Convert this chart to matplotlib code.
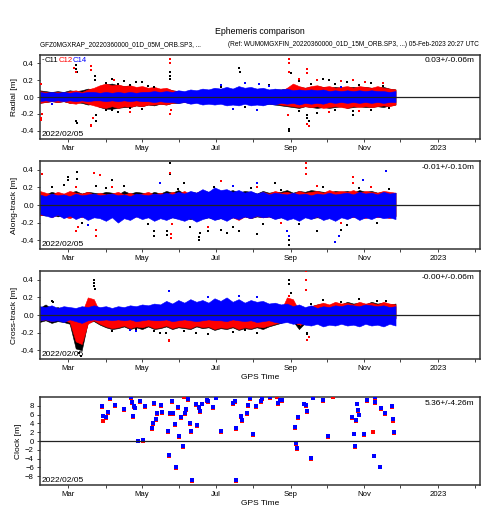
import numpy as np
import matplotlib
matplotlib.use("Agg")
import matplotlib.pyplot as plt
import matplotlib.dates as mdates

plt.rcParams['font.family'] = ['Liberation Sans', 'DejaVu Sans']

# ---------------- data ----------------
start = np.datetime64('2022-02-05')
sample_days = list(range(0, 300, 5))          # days since 2022-02-05
sats = ['C11', 'C12', 'C14']
colors = {'C11': 'black', 'C12': '#ff0000', 'C14': '#0000ff'}

# Radial [m]
rad_c14_hi = [.06,.05,.06,.05,.06,.05,.06,.05,.06,.06, .05,.06,.05,.06,.05,.06,.05,.06,.06,.07,
              .06,.07,.06,.08,.07,.09,.08,.10,.09,.11, .10,.12,.10,.13,.11,.12,.10,.11,.09,.10,
              .09,.10,.08,.09,.08,.09,.08,.09,.07,.08, .07,.08,.07,.08,.07,.08,.07,.07,.06,.07]
rad_c14_lo = [-.05,-.04,-.05,-.04,-.05,-.04,-.05,-.04,-.05,-.04, -.04,-.05,-.04,-.05,-.04,-.05,-.04,-.05,-.05,-.06,
              -.05,-.06,-.06,-.07,-.06,-.08,-.07,-.09,-.08,-.09, -.08,-.10,-.09,-.10,-.08,-.10,-.09,-.10,-.08,-.09,
              -.07,-.08,-.07,-.09,-.07,-.08,-.07,-.08,-.06,-.07, -.06,-.07,-.06,-.07,-.06,-.07,-.06,-.07,-.06,-.06]
rad_c12_hi = [.07,.06,.05,.06,.05,.07,.08,.06,.09,.11, .14,.16,.14,.15,.13,.14,.12,.13,.11,.12,
              .10,.11,.08,.07,.06,.07,.06,.06,.07,.06, .06,.07,.06,.07,.06,.06,.05,.06,.07,.06,
              .07,.11,.16,.13,.11,.13,.14,.12,.13,.11, .12,.13,.11,.13,.12,.11,.13,.11,.10,.09]
rad_c12_lo = [-.07,-.06,-.05,-.06,-.05,-.07,-.08,-.06,-.08,-.10, -.12,-.13,-.11,-.13,-.11,-.12,-.10,-.11,-.09,-.09,
              -.08,-.09,-.07,-.06,-.06,-.07,-.06,-.06,-.07,-.06, -.06,-.07,-.06,-.07,-.06,-.06,-.05,-.06,-.07,-.08,
              -.09,-.10,-.11,-.12,-.11,-.12,-.11,-.13,-.12,-.11, -.12,-.13,-.11,-.12,-.11,-.12,-.11,-.10,-.11,-.09]
rad_c11_hi = [.08,.07,.06,.07,.06,.08,.07,.08,.10,.09, .13,.15,.16,.14,.13,.13,.11,.12,.10,.11,
              .09,.10,.08,.07,.06,.07,.06,.07,.07,.06, .07,.06,.07,.08,.06,.07,.06,.07,.08,.09,
              .09,.10,.13,.12,.11,.12,.13,.12,.11,.12, .11,.12,.12,.11,.12,.11,.11,.12,.10,.09]
rad_c11_lo = [-.07,-.06,-.05,-.06,-.05,-.07,-.06,-.07,-.09,-.08, -.12,-.14,-.14,-.13,-.12,-.12,-.10,-.11,-.09,-.10,
              -.08,-.09,-.07,-.07,-.06,-.07,-.06,-.07,-.07,-.06, -.07,-.06,-.07,-.08,-.07,-.08,-.07,-.09,-.08,-.09,
              -.10,-.11,-.12,-.13,-.11,-.12,-.13,-.12,-.13,-.12, -.11,-.13,-.12,-.11,-.12,-.12,-.11,-.12,-.10,-.09]
rad_c11_out_d = [30,30,31,30,31,46,46,47,47,108,108,108,165,166,207,207,208,222,222,223,80,60,240,260,
                 55,60,65,70,75,85,90,55,65,75,85,95,215,225,235,245,255,265,275,285,215,230,245,260,275,290,150,170,190]
rad_c11_out_v = [.38,.33,.30,-.28,-.31,.25,.20,-.28,-.22,.30,.22,.25,.35,.30,-.40,-.38,.28,-.25,-.22,-.28,.18,-.16,.20,-.17,
                 .17,.21,.15,.19,.14,.18,.13,-.15,-.18,-.13,-.14,.12,.19,.16,.21,.15,.18,.14,.17,.13,-.17,-.19,-.15,-.21,-.16,-.13,.12,-.12,.14]
rad_c12_out_d = [1,1,2,1,29,30,43,43,43,43,44,108,108,108,109,207,207,207,206,222,222,222,223,260,62,75,
                 215,230,250,270,285,240,265]
rad_c12_out_v = [-.25,-.27,-.20,.15,.35,.30,.37,.32,-.33,-.35,-.25,.45,.40,-.20,-.15,.45,.40,.30,-.22,.33,.28,-.32,-.35,.20,.20,-.18,
                 .22,.20,.19,.18,.17,-.18,-.17]
rad_c14_out_d = [170,182,190,160,180,250,150,10]
rad_c14_out_v = [.17,.15,.13,-.14,-.15,.12,.14,-.08]

# Along-track [m]
alo_c14_hi = [.12,.10,.13,.11,.12,.10,.13,.11,.12,.13, .11,.12,.13,.11,.12,.10,.13,.12,.11,.13,
              .12,.14,.12,.15,.13,.16,.14,.18,.15,.20, .17,.18,.15,.17,.14,.16,.13,.15,.12,.14,
              .13,.12,.14,.12,.13,.11,.13,.12,.14,.12, .13,.14,.12,.15,.13,.14,.12,.15,.13,.14]
alo_c14_lo = [-.10,-.12,-.14,-.11,-.15,-.12,-.16,-.13,-.17,-.14, -.15,-.18,-.14,-.20,-.15,-.17,-.13,-.16,-.14,-.18,
              -.15,-.17,-.14,-.16,-.18,-.15,-.19,-.16,-.14,-.17, -.15,-.18,-.14,-.16,-.13,-.15,-.12,-.14,-.13,-.16,
              -.14,-.17,-.15,-.18,-.14,-.16,-.13,-.17,-.15,-.18, -.14,-.16,-.13,-.17,-.14,-.16,-.13,-.15,-.14,-.16]
alo_c12_hi = [.16,.14,.12,.15,.13,.16,.14,.13,.15,.12, .14,.12,.13,.15,.12,.14,.11,.13,.15,.12,
              .14,.12,.15,.13,.16,.12,.14,.17,.13,.15, .14,.16,.12,.15,.13,.14,.12,.15,.13,.16,
              .14,.15,.13,.16,.14,.15,.16,.14,.17,.15, .16,.15,.17,.14,.16,.15,.14,.16,.15,.14]
alo_c12_lo = [-.12,-.10,-.14,-.11,-.13,-.15,-.12,-.14,-.11,-.13, -.12,-.14,-.11,-.13,-.12,-.15,-.13,-.12,-.14,-.11,
              -.13,-.15,-.12,-.14,-.16,-.13,-.17,-.14,-.12,-.15, -.13,-.16,-.14,-.17,-.13,-.15,-.12,-.14,-.13,-.15,
              -.12,-.14,-.11,-.13,-.12,-.15,-.13,-.16,-.14,-.15, -.13,-.12,-.14,-.13,-.15,-.12,-.14,-.13,-.15,-.12]
alo_c11_hi = [.14,.12,.15,.13,.11,.14,.16,.13,.15,.14, .13,.15,.14,.12,.16,.13,.15,.14,.12,.15,
              .13,.16,.14,.17,.13,.15,.14,.16,.15,.17, .16,.15,.17,.14,.16,.15,.13,.16,.14,.15,
              .15,.17,.14,.16,.15,.17,.16,.15,.14,.16, .15,.16,.14,.17,.15,.16,.14,.15,.13,.14]
alo_c11_lo = [-.11,-.12,-.10,-.13,-.11,-.13,-.12,-.11,-.13,-.12, -.12,-.11,-.13,-.12,-.14,-.12,-.13,-.12,-.13,-.14,
              -.13,-.15,-.14,-.15,-.14,-.16,-.14,-.15,-.14,-.16, -.15,-.16,-.14,-.15,-.13,-.15,-.13,-.14,-.13,-.15,
              -.14,-.15,-.13,-.15,-.13,-.15,-.14,-.15,-.13,-.14, -.13,-.15,-.13,-.14,-.13,-.14,-.13,-.13,-.12,-.13]
alo_c11_out_d = [31,31,24,24,47,60,108,108,95,95,106,106,132,132,133,140,155,165,180,207,207,230,250,195,120,
                 10,20,35,55,70,90,115,125,145,150,160,175,185,200,215,235,255,265,280,290]
alo_c11_out_v = [.38,.30,.32,.28,.22,.28,.48,.35,-.35,-.30,-.34,-.30,-.40,-.36,-.32,-.30,-.32,-.30,-.33,-.45,-.40,-.30,-.28,.25,.25,
                 .20,.23,-.20,.19,.22,-.22,.18,-.25,.21,-.28,-.25,.19,-.22,.17,-.22,.21,-.23,.19,-.20,.18]
alo_c12_out_d = [2,45,50,47,47,108,109,109,150,221,221,221,260,260,200,30,32,
                 30,60,110,140,180,230,250,275]
alo_c12_out_v = [.35,.36,.34,-.35,-.28,.36,-.38,-.33,.27,.48,.42,.35,.32,.25,-.20,-.30,-.25,
                 .20,.20,-.22,-.25,.20,.22,-.20,.20]
alo_c14_out_d = [100,205,207,245,248,287,268,40,180,160]
alo_c14_out_v = [.25,-.30,-.35,-.42,-.35,.39,.28,-.23,.25,.22]

# Cross-track [m]
crs_c14_hi = [.10,.09,.11,.08,.10,.09,.08,.10,.09,.11, .09,.10,.08,.10,.09,.11,.10,.12,.11,.13,
              .12,.16,.13,.17,.14,.18,.15,.17,.14,.19, .16,.20,.15,.18,.14,.17,.15,.16,.13,.14,
              .12,.13,.10,.12,.09,.11,.08,.10,.09,.11, .10,.12,.11,.10,.12,.11,.10,.11,.09,.10]
crs_c14_lo = [-.06,-.05,-.07,-.06,-.08,-.05,-.07,-.09,-.06,-.05, -.06,-.05,-.06,-.05,-.06,-.05,-.07,-.06,-.05,-.06,
              -.06,-.05,-.07,-.06,-.05,-.06,-.07,-.06,-.05,-.06, -.06,-.07,-.05,-.06,-.07,-.06,-.08,-.07,-.06,-.08,
              -.09,-.08,-.10,-.09,-.11,-.12,-.10,-.13,-.11,-.12, -.10,-.12,-.11,-.13,-.10,-.12,-.11,-.13,-.10,-.12]
crs_c12_hi = [.06,.05,.07,.05,.06,.04,.00,.02,.20,.18, .03,.02,.03,.02,.03,.02,.03,.02,.03,.02,
              .03,.02,.03,.02,.03,.02,.03,.02,.03,.02, .02,.03,.02,.03,.02,.03,.02,.03,.04,.05,
              .05,.20,.18,.05,.06,.10,.12,.14,.12,.15, .13,.14,.12,.15,.13,.14,.12,.15,.13,.12]
crs_c12_lo = [-.06,-.05,-.07,-.05,-.06,-.08,-.30,-.33,-.10,-.06, -.10,-.13,-.15,-.14,-.12,-.15,-.13,-.14,-.12,-.15,
              -.14,-.12,-.15,-.13,-.14,-.15,-.12,-.14,-.13,-.16, -.14,-.15,-.13,-.16,-.14,-.15,-.13,-.14,-.12,-.10,
              -.08,-.05,-.06,-.12,-.08,-.05,-.03,-.02,-.03,-.02, -.02,-.03,-.02,-.03,-.02,-.03,-.02,-.03,-.02,-.03]
crs_c11_hi = [.08,.12,.07,.09,.06,.05,-.10,-.15,.05,.10, .02,.01,.02,.00,.01,.02,.00,.01,.02,.00,
              .01,.00,.02,.01,.00,.01,.02,.00,.01,.02, .01,.02,.00,.01,.02,.01,.02,.03,.04,.05,
              .06,.12,.08,.06,.08,.10,.12,.13,.11,.14, .12,.15,.13,.14,.12,.15,.13,.14,.12,.13]
crs_c11_lo = [-.08,-.06,-.09,-.07,-.08,-.10,-.38,-.40,-.08,-.07, -.11,-.14,-.16,-.15,-.13,-.16,-.14,-.16,-.13,-.16,
              -.15,-.13,-.16,-.14,-.15,-.16,-.13,-.15,-.14,-.17, -.15,-.16,-.14,-.17,-.15,-.16,-.14,-.16,-.13,-.11,
              -.09,-.06,-.07,-.16,-.09,-.06,-.04,-.03,-.04,-.03, -.03,-.04,-.03,-.04,-.03,-.04,-.03,-.04,-.03,-.04]
crs_c11_out_d = [45,45,45,46,10,11,34,33,207,207,208,222,222,105,95,225,287,
                 100,120,140,160,180,235,250,265,280,215,60,80,130,170]
crs_c11_out_v = [.40,.36,.33,.30,.16,.15,-.47,-.43,.40,.35,.25,-.20,-.22,-.20,-.18,.12,.16,
                 -.21,-.18,-.22,-.19,-.20,.17,.15,.18,.16,-.12,-.18,-.16,-.20,-.17]
crs_c12_out_d = [107,107,207,221,221,221,222,223]
crs_c12_out_v = [-.28,-.30,.22,.50,.40,.28,-.28,-.25]
crs_c14_out_d = [107,75,80,180,165,140]
crs_c14_out_v = [.27,-.17,-.18,.20,.22,.20]

# Clock [m]
clock_days = [51.5,52.5,55.5,56.4,58.4,62.5,70.2,75.5,76.5,77.7,78.5,79.5,81.3,83.2,85.4,87.6,92.9,93.7,94.8,96.4,
              97.5,100.3,101.5,106.6,107.4,108.2,109.9,110.7,112.1,113.0,114.8,115.7,117.1,119.0,120.4,121.8,123.2,124.6,125.4,126.5,
              129.6,130.7,131.8,132.9,134.5,138.4,139.7,143.4,146.0,150.5,160.5,161.9,162.9,163.2,166.8,168.2,172.0,172.8,174.3,177.3,
              179.2,183.9,184.5,190.8,197.7,199.1,201.3,211.5,212.4,213.5,213.9,219.2,220.6,222.0,225.3,226.7,235.0,239.0,259.0,260.4,
              261.2,262.0,263.1,263.9,264.8,269.2,271.1,277.1,277.7,278.2,282.1,283.2,286.3,292.0,292.8,294.0]
clock_c14 = [8.0,5.7,5.5,6.5,9.7,8.2,7.2,9.9,8.8,5.7,8.0,7.6,0.1,9.1,0.2,8.0,3.0,4.0,8.7,5.0,
             6.3,8.1,6.6,2.3,-3.2,6.4,9.0,6.4,3.8,-6.0,7.8,1.1,5.4,-1.1,6.4,7.2,9.5,4.0,2.3,-8.8,
             8.4,3.6,7.8,6.8,8.5,9.4,9.1,7.8,9.7,2.3,8.7,9.1,-8.8,3.0,5.7,4.8,6.4,8.2,9.7,1.6,
             7.9,9.1,9.7,9.9,8.7,9.4,9.3,3.1,-0.4,-1.7,5.4,8.5,8.2,6.9,-3.8,9.7,9.4,1.1,5.5,1.7,
             -1.1,4.8,8.5,7.0,6.0,1.6,9.3,-3.3,9.9,8.9,-5.8,7.4,6.3,7.9,4.9,2.1]
clock_c12 = [7.8,4.6,5.3,6.3,9.5,8.0,7.0,9.7,8.6,5.4,7.8,7.4,-0.1,8.9,0.0,7.8,2.8,3.8,8.5,4.8,
             6.1,7.9,6.4,2.1,-3.4,6.2,8.8,6.2,3.6,-6.2,7.6,0.9,5.2,-1.3,6.2,7.0,9.3,3.8,2.1,-9.0,
             8.2,3.4,7.6,6.6,8.3,9.2,8.9,7.6,9.9,2.1,8.5,8.9,-9.0,2.8,5.5,4.6,6.2,8.0,9.5,1.3,
             7.7,8.9,9.5,9.7,8.5,9.2,9.1,2.9,-0.6,-1.9,5.2,8.3,8.0,6.7,-4.0,9.9,9.2,0.8,5.3,1.5,
             -1.3,4.6,8.3,6.8,5.8,1.4,9.1,-3.5,9.7,8.7,-6.0,7.2,6.1,7.7,4.6,1.9]
clock_c12_extra_d = [243.2, 276.3, 120.0, 197.0]
clock_c12_extra_v = [9.9, 2.1, 9.9, 9.9]

panel_labels = ['Radial [m]', 'Along-track [m]', 'Cross-track [m]', 'Clock [m]']
panel_stats = ['0.03+/-0.06m', '-0.01+/-0.10m', '-0.00+/-0.06m', '5.36+/-4.26m']
title = 'Ephemeris comparison'
subtitle_left = 'GFZ0MGXRAP_20220360000_01D_05M_ORB.SP3, ...'
subtitle_right = '(Ref: WUM0MGXFIN_20220360000_01D_15M_ORB.SP3, ...) 05-Feb-2023 20:27 UTC'
date_label = '2022/02/05'

# ---------------- helpers ----------------
def to_dates(days):
    return (start + (np.asarray(days, dtype=float) * 86400).astype('timedelta64[s]')).astype('datetime64[s]').astype(object)

W, H = 490, 520
fig = plt.figure(figsize=(W / 100, H / 100), dpi=100)

def fbox(x0, y0, x1, y1):
    return [x0 / W, 1 - y1 / H, (x1 - x0) / W, (y1 - y0) / H]

boxes = [(39.5, 55, 480, 139), (39.5, 161, 480, 249), (39.5, 271, 480, 359), (39.5, 397, 480, 485)]
xmin = to_dates([0])[0]
xmax = to_dates([365])[0]
sd = to_dates(sample_days)

band_data = [
    {'C11': (rad_c11_lo, rad_c11_hi, rad_c11_out_d, rad_c11_out_v),
     'C12': (rad_c12_lo, rad_c12_hi, rad_c12_out_d, rad_c12_out_v),
     'C14': (rad_c14_lo, rad_c14_hi, rad_c14_out_d, rad_c14_out_v)},
    {'C11': (alo_c11_lo, alo_c11_hi, alo_c11_out_d, alo_c11_out_v),
     'C12': (alo_c12_lo, alo_c12_hi, alo_c12_out_d, alo_c12_out_v),
     'C14': (alo_c14_lo, alo_c14_hi, alo_c14_out_d, alo_c14_out_v)},
    {'C11': (crs_c11_lo, crs_c11_hi, crs_c11_out_d, crs_c11_out_v),
     'C12': (crs_c12_lo, crs_c12_hi, crs_c12_out_d, crs_c12_out_v),
     'C14': (crs_c14_lo, crs_c14_hi, crs_c14_out_d, crs_c14_out_v)},
]

def month_fmt(x, pos=None):
    d = mdates.num2date(x)
    return str(d.year) if d.month == 1 else d.strftime('%b')

tfs = 5.6
for k, b in enumerate(boxes):
    ax = fig.add_axes(fbox(*b))
    ax.set_xlim(xmin, xmax)
    if k < 3:
        ax.set_ylim(-0.5, 0.5)
        ax.set_yticks([-0.4, -0.2, 0.0, 0.2, 0.4])
        ax.set_yticklabels(['-0.4', '-0.2', '0.0', '0.2', '0.4'])
        for s in sats:
            lo, hi, od, ov = band_data[k][s]
            ax.fill_between(sd, lo, hi, color=colors[s], lw=0.4, edgecolor=colors[s], zorder=2)
            ax.scatter(to_dates(od), ov, s=1.6, marker='s', color=colors[s], lw=0, zorder=3)
    else:
        ax.set_ylim(-10, 10)
        ax.set_yticks(list(range(-8, 10, 2)))
        ax.scatter(to_dates(clock_c12_extra_d), clock_c12_extra_v, s=5, marker='s', color=colors['C12'], lw=0, zorder=3)
        ax.scatter(to_dates(clock_days), clock_c12, s=5.5, marker='s', color=colors['C12'], lw=0, zorder=3)
        ax.scatter(to_dates(clock_days), clock_c14, s=6, marker='s', color=colors['C14'], lw=0, zorder=4)
    ax.axhline(0, color='#222222', lw=0.9, zorder=5)
    ax.xaxis.set_major_locator(mdates.MonthLocator(bymonth=[1, 3, 5, 7, 9, 11]))
    ax.xaxis.set_minor_locator(mdates.MonthLocator(bymonth=[2, 4, 6, 8, 10, 12]))
    ax.xaxis.set_major_formatter(plt.FuncFormatter(month_fmt))
    ax.tick_params(axis='both', which='both', direction='out', length=2.5, width=0.6,
                   labelsize=tfs, pad=1.5, color='#222222')
    for sp in ax.spines.values():
        sp.set_linewidth(1.1)
        sp.set_color('#333333')
    ax.set_ylabel(panel_labels[k], fontsize=6, labelpad=2)
    ax.text(0.988, 0.93, panel_stats[k], transform=ax.transAxes, ha='right', va='center', fontsize=6)
    ax.text(0.004, 0.055, date_label, transform=ax.transAxes, ha='left', va='center', fontsize=6)
    if k >= 2:
        ax.set_xlabel('GPS Time', fontsize=6, labelpad=2)

# legend-like label in first panel
fig.text(42 / W, 1 - 60 / H, '-', color='black', fontsize=5.6, va='center', ha='left')
fig.text(45 / W, 1 - 60 / H, 'C11', color='black', fontsize=5.6, va='center', ha='left')
fig.text(59 / W, 1 - 60 / H, 'C12', color='#ff0000', fontsize=5.6, va='center', ha='left')
fig.text(73 / W, 1 - 60 / H, 'C14', color='#0000ff', fontsize=5.6, va='center', ha='left')

fig.text(259.7 / W, 1 - 32 / H, title, fontsize=6.3, ha='center', va='center')
fig.text(40 / W, 1 - 44.5 / H, subtitle_left, fontsize=4.7, ha='left', va='center')
fig.text(479 / W, 1 - 44.5 / H, subtitle_right, fontsize=4.7, ha='right', va='center')

fig.savefig('out.png', dpi=100)
